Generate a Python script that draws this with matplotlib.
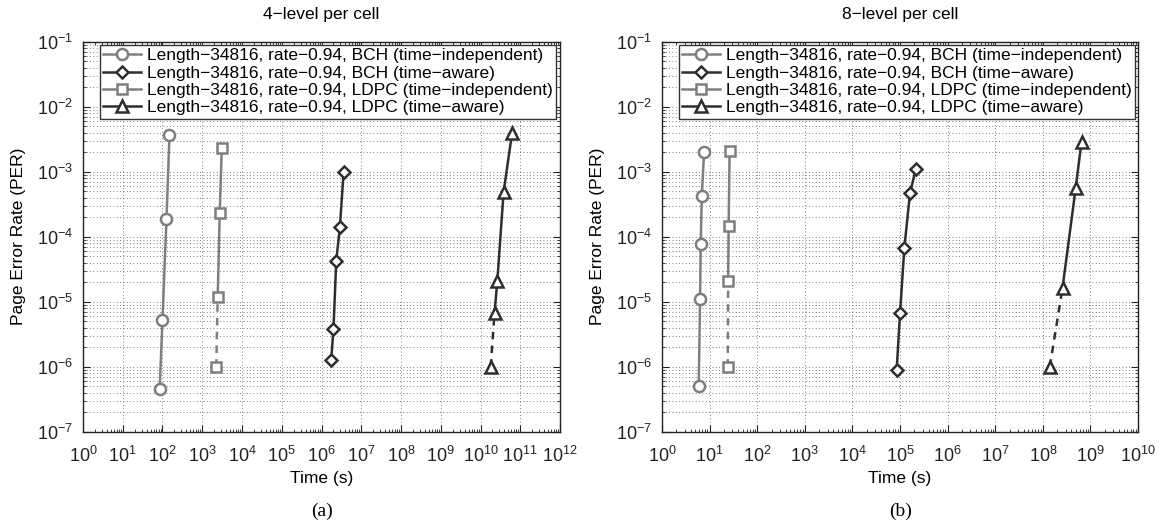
import numpy as np
import matplotlib
matplotlib.use("Agg")
import matplotlib.pyplot as plt
from matplotlib.ticker import LogLocator, NullFormatter, LogFormatterMathtext

plt.rcParams["font.family"] = ["Liberation Sans", "DejaVu Sans"]
plt.rcParams["mathtext.fontset"] = "custom"
plt.rcParams["mathtext.rm"] = "Liberation Sans"

# ---- data (time in s, PER) ----
# (a) 4-level per cell
a_bch_ti_t = [85, 100, 126, 150]
a_bch_ti_per = [4.6e-7, 5.3e-6, 1.85e-4, 3.7e-3]
a_bch_ta_t = [1.75e6, 2.0e6, 2.35e6, 2.9e6, 3.6e6]
a_bch_ta_per = [1.25e-6, 3.8e-6, 4.3e-5, 1.4e-4, 1.0e-3]
a_ldpc_ti_t = [2250, 2450, 2750, 3100]
a_ldpc_ti_per = [1.0e-6, 1.2e-5, 2.3e-4, 2.3e-3]
a_ldpc_ta_t = [1.8e10, 2.25e10, 2.65e10, 3.8e10, 6.2e10]
a_ldpc_ta_per = [1.0e-6, 6.6e-6, 2.1e-5, 4.8e-4, 3.9e-3]

# (b) 8-level per cell
b_bch_ti_t = [5.9, 6.3, 6.5, 6.85, 7.65]
b_bch_ti_per = [5.0e-7, 1.12e-5, 7.6e-5, 4.3e-4, 2.0e-3]
b_bch_ta_t = [8.5e4, 1.0e5, 1.23e5, 1.62e5, 2.15e5]
b_bch_ta_per = [8.9e-7, 6.6e-6, 6.6e-5, 4.7e-4, 1.1e-3]
b_ldpc_ti_t = [24.0, 24.5, 25.1, 26.3]
b_ldpc_ti_per = [1.0e-6, 2.1e-5, 1.45e-4, 2.1e-3]
b_ldpc_ta_t = [1.4e8, 2.6e8, 4.9e8, 6.5e8]
b_ldpc_ta_per = [1.0e-6, 1.65e-5, 5.6e-4, 2.9e-3]

labels = [
    "Length\u221234816, rate\u22120.94, BCH (time\u2212independent)",
    "Length\u221234816, rate\u22120.94, BCH (time\u2212aware)",
    "Length\u221234816, rate\u22120.94, LDPC (time\u2212independent)",
    "Length\u221234816, rate\u22120.94, LDPC (time\u2212aware)",
]
titles = ["4\u2212level per cell", "8\u2212level per cell"]
xmax_exp = [12, 10]

GRAY = "#7f7f7f"
DARK = "#2e2e2e"
styles = [(GRAY, "o"), (DARK, "D"), (GRAY, "s"), (DARK, "^")]
msizes = [8, 6.5, 7, 9]
# LDPC series: lowest point is an extrapolation, drawn dashed
dashed_first = [False, False, True, True]

panels = [
    [(a_bch_ti_t, a_bch_ti_per), (a_bch_ta_t, a_bch_ta_per),
     (a_ldpc_ti_t, a_ldpc_ti_per), (a_ldpc_ta_t, a_ldpc_ta_per)],
    [(b_bch_ti_t, b_bch_ti_per), (b_bch_ta_t, b_bch_ta_per),
     (b_ldpc_ti_t, b_ldpc_ti_per), (b_ldpc_ta_t, b_ldpc_ta_per)],
]

fig = plt.figure(figsize=(11.59, 5.24), dpi=100)
axes = [fig.add_axes([0.0716, 0.1761, 0.4116, 0.7443]),
        fig.add_axes([0.5712, 0.1761, 0.4107, 0.7443])]

for k, ax in enumerate(axes):
    ax.set_xscale("log")
    ax.set_yscale("log")
    handles = []
    for i, (t, per) in enumerate(panels[k]):
        color, mk = styles[i]
        t = np.array(t)
        per = np.array(per)
        if dashed_first[i]:
            ax.plot(t[:2], per[:2], color=color, lw=1.8, ls=(0, (3, 2.5)))
            solid_t, solid_p = t[1:], per[1:]
        else:
            solid_t, solid_p = t, per
        ax.plot(solid_t, solid_p, color=color, lw=1.8)
        ax.plot(t, per, ls="none", marker=mk, ms=msizes[i], mfc="white",
                mec=color, mew=1.8)
        h, = ax.plot([], [], color=color, lw=1.8, marker=mk, ms=msizes[i],
                     mfc="white", mec=color, mew=1.8)
        handles.append(h)

    ax.set_xlim(1, 10 ** xmax_exp[k])
    ax.set_ylim(1e-7, 1e-1)
    ax.xaxis.set_major_locator(LogLocator(base=10, numticks=30))
    ax.xaxis.set_minor_locator(LogLocator(base=10, subs=np.arange(2, 10), numticks=300))
    ax.yaxis.set_major_locator(LogLocator(base=10, numticks=30))
    ax.yaxis.set_minor_locator(LogLocator(base=10, subs=np.arange(2, 10), numticks=300))
    ax.xaxis.set_major_formatter(LogFormatterMathtext())
    ax.xaxis.set_minor_formatter(NullFormatter())
    ax.yaxis.set_minor_formatter(NullFormatter())

    ax.grid(True, which="major", ls=(0, (1, 3)), color="#555555", lw=0.6)
    ax.yaxis.grid(True, which="minor", ls=(0, (1, 3)), color="#555555", lw=0.6)
    ax.tick_params(which="both", direction="in", top=True, right=True,
                   labelsize=13, colors="#222222")
    ax.tick_params(which="major", length=5)
    ax.tick_params(axis="x", which="major", pad=10)
    ax.tick_params(axis="y", which="major", pad=7)
    ax.tick_params(which="minor", length=2.5)
    for sp in ax.spines.values():
        sp.set_color("#222222")
        sp.set_linewidth(1.0)

    ax.set_title(titles[k], fontsize=12.5, pad=16)
    ax.set_xlabel("Time (s)", fontsize=12.5, labelpad=4)
    ax.set_ylabel("Page Error Rate (PER)", fontsize=12.5, labelpad=8)

    leg = ax.legend(handles, labels, loc="upper left",
                    bbox_to_anchor=(0.035, 0.992), borderaxespad=0,
                    fontsize=12.5, fancybox=False, framealpha=1,
                    edgecolor="#333333", handlelength=2.2, handletextpad=0.3,
                    labelspacing=0.12, borderpad=0.2)
    leg.get_frame().set_linewidth(1.0)

fig.text(0.2779, 0.008, "(a)", ha="center", va="bottom", fontsize=14,
         family=["Liberation Serif", "DejaVu Serif"])
fig.text(0.7766, 0.008, "(b)", ha="center", va="bottom", fontsize=14,
         family=["Liberation Serif", "DejaVu Serif"])

fig.savefig("out.png", dpi=100)
